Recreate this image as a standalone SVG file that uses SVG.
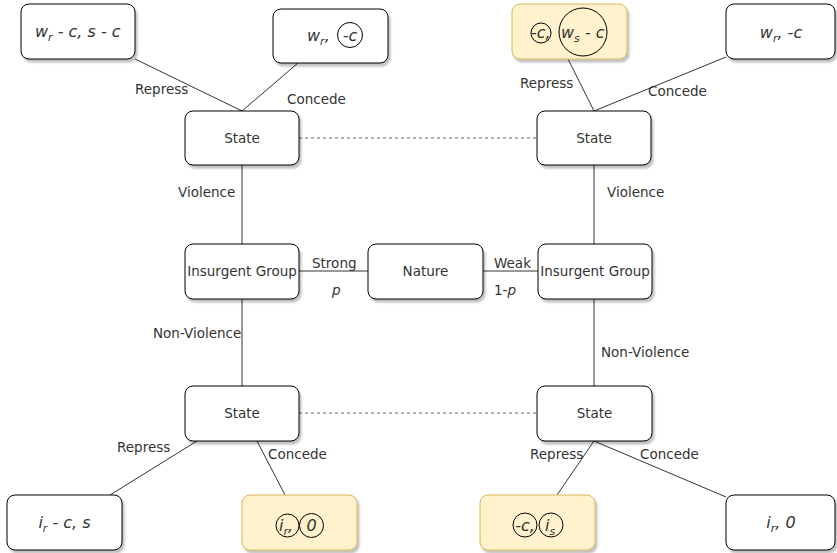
<svg xmlns="http://www.w3.org/2000/svg" width="837" height="553" viewBox="0 0 837 553">
<defs>
<filter id="sh" x="-10%" y="-10%" width="130%" height="140%">
<feDropShadow dx="2" dy="3" stdDeviation="1" flood-color="#000" flood-opacity="0.25"/>
</filter>
</defs>
<style>
.box{fill:#fff;stroke:#000;stroke-width:1;filter:url(#sh)}
.yel{fill:#fff2cc;stroke:#d6b656;stroke-width:1;filter:url(#sh)}
.t{font-family:"DejaVu Sans",Verdana,sans-serif;font-size:13.5px;fill:#333;text-anchor:middle}
.m{font-family:"DejaVu Sans",Verdana,sans-serif;font-size:16px;font-style:italic;fill:#333}
.c{fill:none;stroke:#000;stroke-width:1}
.e{stroke:#333;stroke-width:1;fill:none}
.d{stroke:#666;stroke-width:1;stroke-dasharray:3 3;fill:none}
.l{font-family:"DejaVu Sans",Verdana,sans-serif;font-size:13.5px;fill:#333}
</style>
<rect width="837" height="553" fill="#fff"/>
<g id="connectors">
<line class="e" x1="135" y1="59" x2="242" y2="111"/>
<line class="e" x1="298" y1="63" x2="242" y2="111"/>
<line class="e" x1="568" y1="59" x2="594" y2="111"/>
<line class="e" x1="726" y1="57" x2="594" y2="111"/>
<line class="d" x1="299" y1="138" x2="537" y2="138"/>
<line class="d" x1="299" y1="413" x2="537" y2="413"/>
<line class="e" x1="242" y1="165" x2="242" y2="244"/>
<line class="e" x1="594" y1="165" x2="594" y2="244"/>
<line class="e" x1="242" y1="299" x2="242" y2="386"/>
<line class="e" x1="594" y1="299" x2="594" y2="386"/>
<line class="e" x1="299" y1="271" x2="368" y2="271"/>
<line class="e" x1="483" y1="271" x2="538" y2="271"/>
<line class="e" x1="197" y1="441" x2="110" y2="495"/>
<line class="e" x1="257" y1="441" x2="285" y2="495"/>
<line class="e" x1="594" y1="441" x2="557" y2="495"/>
<line class="e" x1="594" y1="441" x2="726" y2="497"/>
<text class="l" x="135" y="94">Repress</text>
<text class="l" x="287" y="104">Concede</text>
<text class="l" x="520" y="88">Repress</text>
<text class="l" x="648" y="96">Concede</text>
<text class="l" x="178" y="197">Violence</text>
<text class="l" x="607" y="197">Violence</text>
<text class="l" x="153" y="338">Non-Violence</text>
<text class="l" x="601" y="357">Non-Violence</text>
<text class="l" x="312" y="268">Strong</text>
<text class="l" x="332" y="295" font-style="italic">p</text>
<text class="l" x="494" y="268">Weak</text>
<text class="l" x="494" y="295">1-<tspan font-style="italic">p</tspan></text>
<text class="l" x="117" y="452">Repress</text>
<text class="l" x="268" y="459">Concede</text>
<text class="l" x="530" y="459">Repress</text>
<text class="l" x="640" y="459">Concede</text>
</g>
<g id="n_tl">
<rect class="box" x="21" y="4" width="114" height="55" rx="8"/>
<text class="m" x="35" y="37">w<tspan dy="4" font-size="11">r</tspan><tspan dy="-4"> - c, s - c</tspan></text>
</g>
<g id="n_tml">
<rect class="box" x="273" y="9" width="115" height="54" rx="8"/>
<text class="m" x="307" y="41">w<tspan dy="4" font-size="11">r</tspan><tspan dy="-4">,</tspan></text>
<circle class="c" cx="350" cy="35" r="12.5"/>
<text class="m" x="350" y="41" text-anchor="middle">-c</text>
</g>
<g id="n_tmr">
<rect class="yel" x="512" y="4" width="115" height="55" rx="8"/>
<circle class="c" cx="541" cy="33" r="10"/>
<text class="m" x="531" y="38" font-size="14">-c,</text>
<circle class="c" cx="583" cy="32" r="24"/>
<text class="m" x="561" y="38">w<tspan dy="4" font-size="11">s</tspan><tspan dy="-4"> - c</tspan></text>
</g>
<g id="n_tr">
<rect class="box" x="726" y="4" width="109" height="55" rx="8"/>
<text class="m" x="781" y="38" text-anchor="middle">w<tspan dy="4" font-size="11">r</tspan><tspan dy="-4">, -c</tspan></text>
</g>
<g id="state_tl">
<rect class="box" x="185" y="111" width="114" height="54" rx="8"/>
<text class="t" x="242" y="143">State</text>
</g>
<g id="state_tr">
<rect class="box" x="537" y="111" width="114" height="54" rx="8"/>
<text class="t" x="594" y="143">State</text>
</g>
<g id="ig_l">
<rect class="box" x="185" y="244" width="114" height="55" rx="8"/>
<text class="t" x="242" y="276">Insurgent Group</text>
</g>
<g id="nature">
<rect class="box" x="368" y="244" width="115" height="55" rx="8"/>
<text class="t" x="425.5" y="276">Nature</text>
</g>
<g id="ig_r">
<rect class="box" x="538" y="244" width="114" height="55" rx="8"/>
<text class="t" x="595" y="276">Insurgent Group</text>
</g>
<g id="state_bl">
<rect class="box" x="185" y="386" width="114" height="55" rx="8"/>
<text class="t" x="242" y="418">State</text>
</g>
<g id="state_br">
<rect class="box" x="537" y="386" width="115" height="55" rx="8"/>
<text class="t" x="594.5" y="418">State</text>
</g>
<g id="n_bl">
<rect class="box" x="7" y="495" width="115" height="55" rx="8"/>
<text class="m" x="64.5" y="528" text-anchor="middle">i<tspan dy="4" font-size="11">r</tspan><tspan dy="-4"> - c, s</tspan></text>
</g>
<g id="n_bml">
<rect class="yel" x="242" y="495" width="115" height="55" rx="8"/>
<circle class="c" cx="287.5" cy="525.5" r="11.5"/>
<text class="m" x="279" y="531">i<tspan dy="4" font-size="11">r</tspan><tspan dy="-4">,</tspan></text>
<circle class="c" cx="311.5" cy="525.5" r="12"/>
<text class="m" x="311.5" y="531" text-anchor="middle" font-style="normal">0</text>
</g>
<g id="n_bmr">
<rect class="yel" x="480" y="495" width="115" height="55" rx="8"/>
<circle class="c" cx="525" cy="525" r="12"/>
<text class="m" x="525" y="531" text-anchor="middle">-c,</text>
<circle class="c" cx="551" cy="525" r="12"/>
<text class="m" x="545" y="531">i<tspan dy="4" font-size="11">s</tspan></text>
</g>
<g id="n_br">
<rect class="box" x="726" y="495" width="109" height="55" rx="8"/>
<text class="m" x="781" y="528" text-anchor="middle">i<tspan dy="4" font-size="11">r</tspan><tspan dy="-4">, 0</tspan></text>
</g>
</svg>
